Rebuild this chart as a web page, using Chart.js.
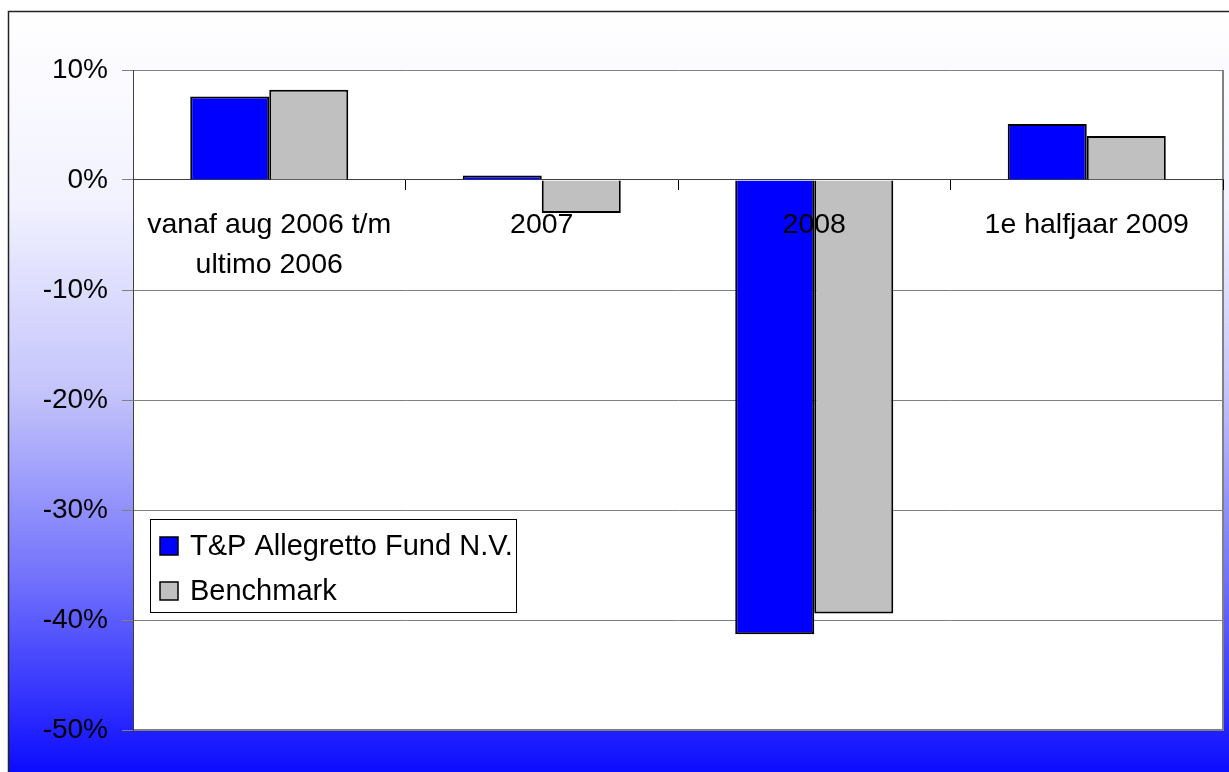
<!DOCTYPE html>
<html>
<head>
<meta charset="utf-8">
<script src="https://cdn.jsdelivr.net/npm/chart.js@4.4.1/dist/chart.umd.min.js"></script>
<style>
  html, body { margin: 0; padding: 0; background: #fff; }
  #wrap { width: 1229px; height: 772px; }
</style>
</head>
<body>
<div id="wrap"><canvas id="bar-chartcanvas"></canvas></div>
<script>
// chart values
var categories = [["vanaf aug 2006 t/m", "ultimo 2006"], "2007", "2008", "1e halfjaar 2009"];
var fundLabel = "T&P Allegretto Fund N.V.";
var fundValues = [7.6, 0.4, -41.3, 5.1];
var benchmarkLabel = "Benchmark";
var benchmarkValues = [8.2, -3.0, -39.4, 4.0];
var yTicks = [10, 0, -10, -20, -30, -40, -50];

Chart.defaults.font.family = "'Liberation Sans', Arial, sans-serif";
Chart.defaults.color = "#000";

//Background: gradient frame + white plot area
var backgroundPlugin = {
    id: "background",
    beforeDraw: function(chart) {
        var ctx = chart.ctx;
        var area = chart.chartArea;
        ctx.save();
        ctx.fillStyle = "#fff";
        ctx.fillRect(0, 0, chart.width, chart.height);

        var grad = ctx.createLinearGradient(0, 11, 0, chart.height);
        grad.addColorStop(0, "#ffffff");
        grad.addColorStop(0.25, "#f2f2ff");
        grad.addColorStop(0.5, "#c4c4fb");
        grad.addColorStop(0.75, "#7070fc");
        grad.addColorStop(1, "#0c0cff");
        ctx.fillStyle = grad;
        ctx.fillRect(8, 11, chart.width - 8, chart.height - 11);

        ctx.strokeStyle = "#222";
        ctx.lineWidth = 1.5;
        ctx.beginPath();
        ctx.moveTo(8.5, chart.height);
        ctx.lineTo(8.5, 11.5);
        ctx.lineTo(chart.width, 11.5);
        ctx.stroke();

        ctx.fillStyle = "#fff";
        ctx.fillRect(area.left, area.top, area.right - area.left, area.bottom - area.top);
        ctx.strokeStyle = "#808080";
        ctx.lineWidth = 2;
        ctx.beginPath();
        ctx.moveTo(area.right, area.top);
        ctx.lineTo(area.right, area.bottom);
        ctx.lineTo(area.left, area.bottom);
        ctx.stroke();
        ctx.restore();
    }
};

//Boxed legend inside the plot area
var boxLegendPlugin = {
    id: "boxLegend",
    afterDraw: function(chart) {
        var ctx = chart.ctx;
        var x = 150, y = 519, w = 366, h = 93;
        ctx.save();
        ctx.fillStyle = "#fff";
        ctx.fillRect(x, y, w, h);
        ctx.strokeStyle = "#000";
        ctx.lineWidth = 1;
        ctx.strokeRect(x + 0.5, y + 0.5, w, h);
        ctx.font = "29px 'Liberation Sans', Arial, sans-serif";
        ctx.textBaseline = "middle";
        chart.data.datasets.forEach(function(ds, i) {
            var cy = y + 27 + i * 45;
            ctx.fillStyle = ds.backgroundColor;
            ctx.fillRect(160, cy - 9, 18, 18);
            ctx.strokeStyle = "#000";
            ctx.lineWidth = 1.5;
            ctx.strokeRect(160, cy - 9, 18, 18);
            ctx.fillStyle = "#000";
            ctx.fillText(ds.label, 190, cy + 1);
        });
        ctx.restore();
    }
};

var ctx = document.getElementById("bar-chartcanvas");

var data = {
    labels: categories,
    datasets: [
        {
            label: fundLabel,
            data: fundValues,
            backgroundColor: "#0000ff",
            borderColor: "#000",
            borderWidth: 2
        },
        {
            label: benchmarkLabel,
            data: benchmarkValues,
            backgroundColor: "#c0c0c0",
            borderColor: "#000",
            borderWidth: 2
        }
    ]
};

var options = {
    responsive: true,
    maintainAspectRatio: false,
    animation: false,
    layout: {
        padding: { left: 0, top: 70, right: 6, bottom: 42 }
    },
    datasets: {
        bar: { categoryPercentage: 0.58, barPercentage: 1.0 }
    },
    scales: {
        x: {
            position: { y: 0 },
            grid: { offset: true, drawOnChartArea: false, tickLength: 10, color: "#000" },
            border: { color: "#404040", width: 1 },
            ticks: {
                z: 1,
                font: { size: 28.5, lineHeight: 1.4 },
                padding: 15,
                maxRotation: 0,
                autoSkip: false
            }
        },
        y: {
            min: -50,
            max: 10,
            afterFit: function(scale) { scale.width = 133; },
            afterBuildTicks: function(scale) {
                scale.ticks = yTicks.map(function(v) { return { value: v }; });
            },
            grid: { color: "#808080", tickLength: 11 },
            border: { color: "#404040", width: 1 },
            ticks: {
                font: { size: 28 },
                padding: 14,
                callback: function(v) { return v + "%"; }
            }
        }
    },
    plugins: {
        legend: { display: false },
        tooltip: { enabled: false }
    }
};

var chart = new Chart(ctx, {
    type: "bar",
    data: data,
    options: options,
    plugins: [backgroundPlugin, boxLegendPlugin]
});
</script>
</body>
</html>
